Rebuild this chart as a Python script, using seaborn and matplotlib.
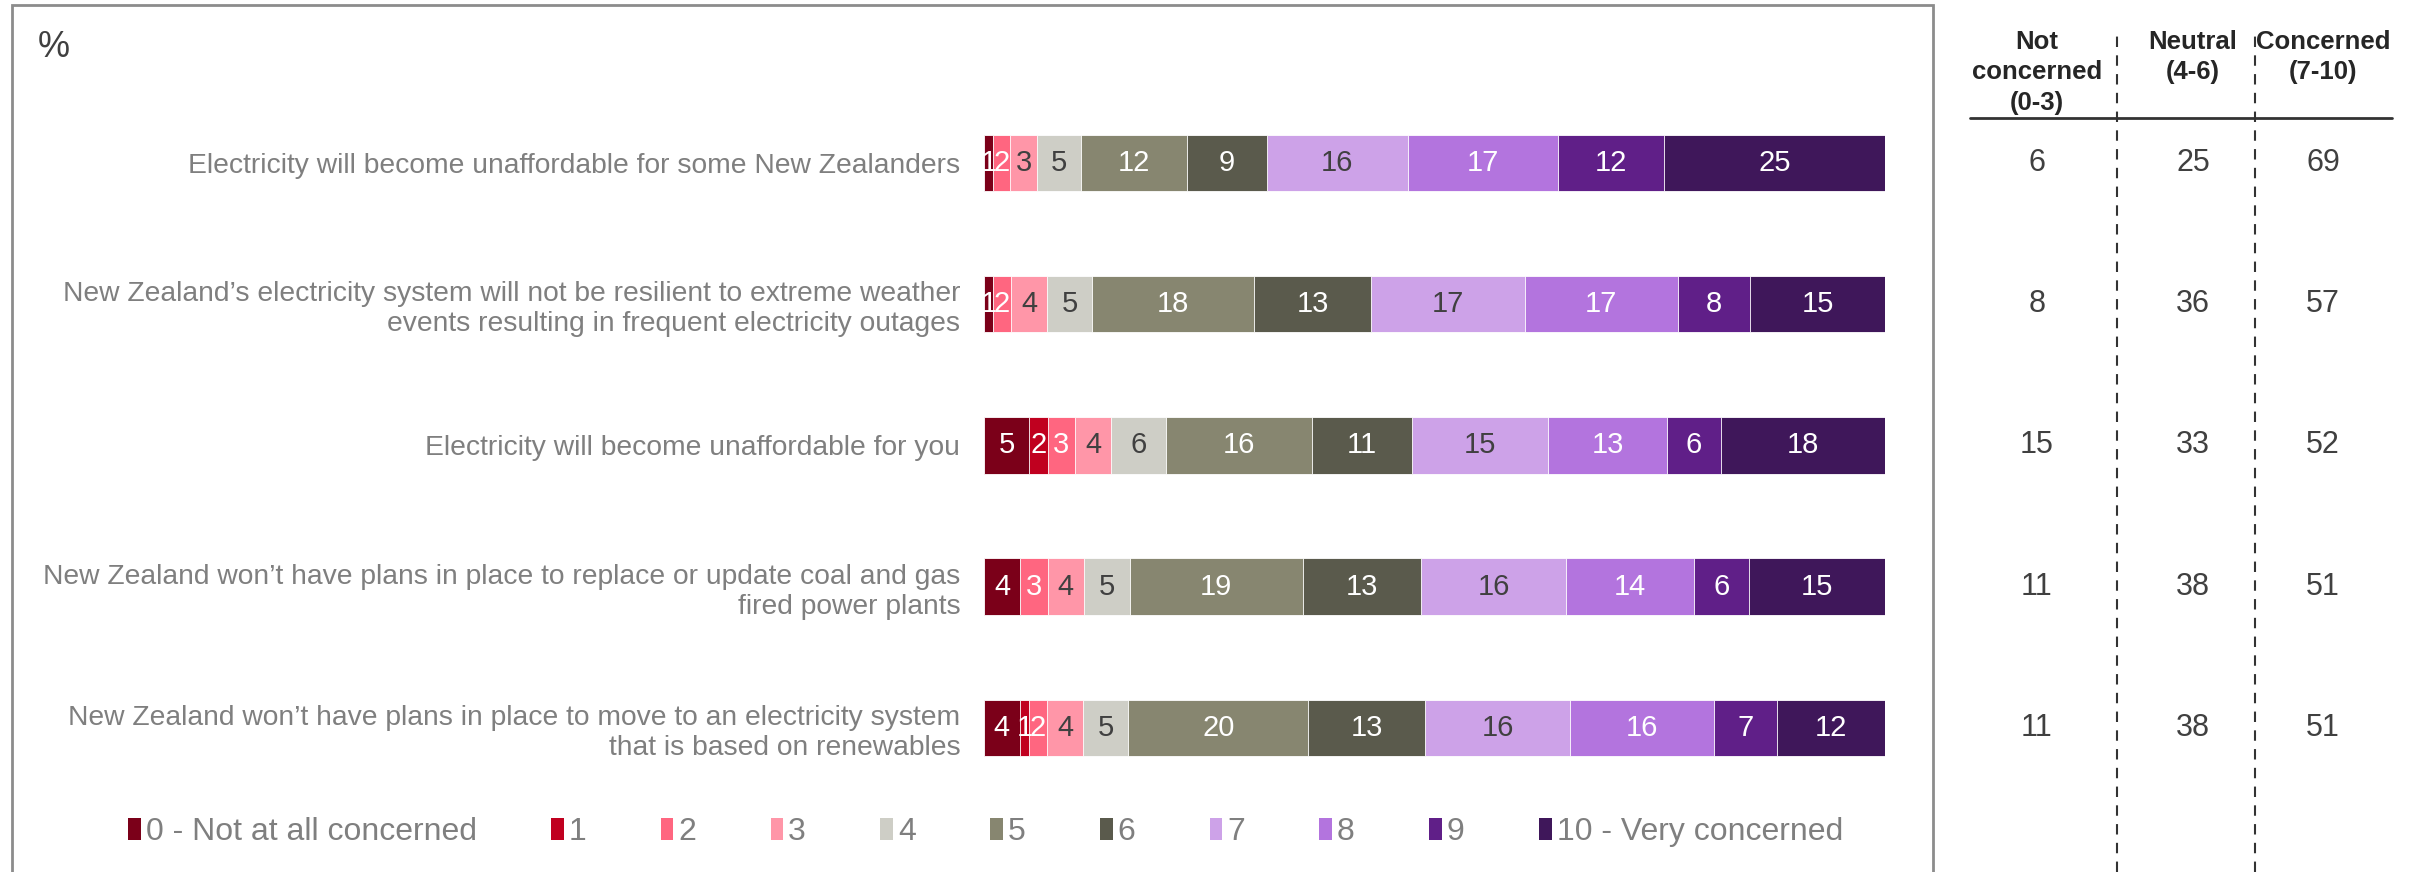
import numpy as np
import pandas as pd
import matplotlib
matplotlib.use("Agg")
import matplotlib.pyplot as plt
import matplotlib.transforms as mtransforms
from matplotlib.patches import Patch, Rectangle
from matplotlib.lines import Line2D
import seaborn as sns

# statements, top to bottom
statements = [
    "Electricity will become unaffordable for some New Zealanders",
    "New Zealand\u2019s electricity system will not be resilient to extreme weather\nevents resulting in frequent electricity outages",
    "Electricity will become unaffordable for you",
    "New Zealand won\u2019t have plans in place to replace or update coal and gas\nfired power plants",
    "New Zealand won\u2019t have plans in place to move to an electricity system\nthat is based on renewables",
]

scale_labels = ["0 - Not at all concerned", "1", "2", "3", "4", "5", "6", "7", "8", "9",
                "10 - Very concerned"]

# % per scale point (0..10) for each statement
row_unaffordable_nz = [1, 0, 2, 3, 5, 12, 9, 16, 17, 12, 25]
row_resilience = [1, 0, 2, 4, 5, 18, 13, 17, 17, 8, 15]
row_unaffordable_you = [5, 2, 3, 4, 6, 16, 11, 15, 13, 6, 18]
row_coal_gas = [4, 0, 3, 4, 5, 19, 13, 16, 14, 6, 15]
row_renewables = [4, 1, 2, 4, 5, 20, 13, 16, 16, 7, 12]

not_concerned = [6, 8, 15, 11, 11]
neutral = [25, 36, 33, 38, 38]
concerned = [69, 57, 52, 51, 51]

colors = ["#7B0019", "#C0001F", "#FF6680", "#FF96A8", "#CECEC6", "#878670",
          "#5A5A4C", "#CDA2E8", "#B374DE", "#601F88", "#3F175A"]
dark_text = {3, 4, 7}

sns.set_theme(style="white")
plt.rcParams["font.family"] = ["Liberation Sans", "DejaVu Sans"]

data = np.array([row_unaffordable_nz, row_resilience, row_unaffordable_you,
                 row_coal_gas, row_renewables], dtype=float)
# bars in the original all fill the full width
shares = data / data.sum(axis=1, keepdims=True) * 100
cum = np.cumsum(shares, axis=1)

fig = plt.figure(figsize=(24.33, 8.72), dpi=100)
ax = fig.add_axes([0.4044, 0.0842, 0.3704, 0.810])

# stacked bars: draw cumulative totals from the top category down
for k in range(len(colors) - 1, -1, -1):
    df = pd.DataFrame({"statement": statements, "value": cum[:, k]})
    sns.barplot(data=df, x="value", y="statement", orient="h", color=colors[k],
                saturation=1, width=0.40, edgecolor="white", linewidth=0.6, ax=ax)

for i in range(len(statements)):
    for k in range(len(colors)):
        v = data[i, k]
        if v <= 0:
            continue
        xc = cum[i, k] - shares[i, k] / 2
        ax.text(xc, i, f"{int(v)}", ha="center", va="center", fontsize=21,
                color="#404040" if k in dark_text else "white")

ax.set_xlim(0, 100)
ax.set_ylim(4.5, -0.5)
ax.set_xlabel("")
ax.set_ylabel("")
ax.set_xticks([])
sns.despine(ax=ax, left=True, bottom=True)
ax.tick_params(axis="y", length=0, pad=17, labelsize=20.3, labelcolor="#7F7F7F")

# "%" marker
fig.text(0.0222, 0.945, "%", fontsize=26, color="#404040", ha="center", va="center")

# box around the chart panel
fig.patches.append(Rectangle((0.0049, -0.02), 0.7896, 1.014, transform=fig.transFigure,
                             fill=False, edgecolor="#8C8C8C", linewidth=2))

# legend
handles = [Patch(facecolor=c, edgecolor="none") for c in colors]
fig.legend(handles, scale_labels, loc="center", bbox_to_anchor=(0.405, 0.046), ncol=11,
           frameon=False, fontsize=23, labelcolor="#7F7F7F", handlelength=0.4,
           handleheight=0.7, handletextpad=0.15, columnspacing=2.33)

# summary table on the right
col_x = [0.8372, 0.9014, 0.9548]
headers = ["Not\nconcerned\n(0-3)", "Neutral\n(4-6)", "Concerned\n(7-10)"]
for x, h in zip(col_x, headers):
    fig.text(x, 0.966, h, ha="center", va="top", fontsize=18.5, fontweight="bold",
             color="#262626", linespacing=1.35)

fig.add_artist(Line2D([0.8097, 0.9830], [0.8647, 0.8647], transform=fig.transFigure,
                      color="#333333", linewidth=2))
for x in [0.8701, 0.9270]:
    fig.add_artist(Line2D([x, x], [0.0, 0.965], transform=fig.transFigure,
                          color="#333333", linewidth=1.5, linestyle=(0, (5, 4))))

trans = mtransforms.blended_transform_factory(fig.transFigure, ax.transData)
for i in range(len(statements)):
    for x, vals in zip(col_x, [not_concerned, neutral, concerned]):
        ax.text(x, i, f"{vals[i]}", transform=trans, ha="center", va="center",
                fontsize=22, color="#404040", clip_on=False)

fig.savefig("out.png", dpi=100)
